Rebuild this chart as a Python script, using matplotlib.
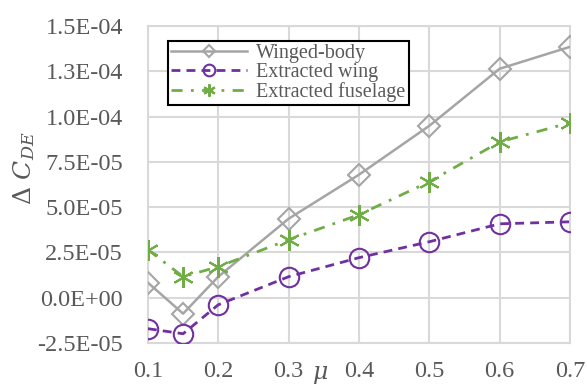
import matplotlib
matplotlib.use("Agg")
import matplotlib.pyplot as plt
from matplotlib.transforms import blended_transform_factory

mu = [0.1, 0.15, 0.2, 0.3, 0.4, 0.5, 0.6, 0.7]
winged_body = [0.83e-5, -0.88e-5, 1.16e-5, 4.36e-5, 6.79e-5, 9.49e-5, 12.64e-5, 13.85e-5]
wing = [-1.71e-5, -1.99e-5, -0.39e-5, 1.16e-5, 2.21e-5, 3.09e-5, 4.08e-5, 4.19e-5]
fuselage = [2.65e-5, 1.16e-5, 1.71e-5, 3.20e-5, 4.58e-5, 6.40e-5, 8.60e-5, 9.66e-5]
xticks = [0.1, 0.2, 0.3, 0.4, 0.5, 0.6, 0.7]
yticks = [-2.5e-5, 0.0, 2.5e-5, 5.0e-5, 7.5e-5, 1.0e-4, 1.25e-4, 1.5e-4]
ytick_labels = ["-2.5E-05", "0.0E+00", "2.5E-05", "5.0E-05", "7.5E-05", "1.0E-04", "1.3E-04", "1.5E-04"]

plt.rcParams['font.family'] = ['Liberation Serif', 'DejaVu Serif']
plt.rcParams['mathtext.fontset'] = 'dejavuserif'
txt = '#595959'
gridc = '#D9D9D9'

fig = plt.figure(figsize=(5.87, 3.87), dpi=100)
ax = fig.add_axes([0.252, 0.1137, 0.719, 0.8191])

ax.plot(mu, winged_body, color='#A5A5A5', lw=1.8, marker='D', ms=11, mfc='none', mec='#A5A5A5', mew=1.5,
        label='Winged-body', zorder=3)
ax.plot(mu, wing, color='#7030A0', lw=2.0, ls=(0, (3.2, 2.2)), marker='o', ms=14, mfc='none', mec='#7030A0', mew=1.5,
        label='Extracted wing', zorder=3)
ax.plot(mu, fuselage, color='#70AD47', lw=2.0, ls=(0, (4, 3, 1, 3)), marker=(6, 2, 0), ms=15, mec='#70AD47', mew=1.5,
        label='Extracted fuselage', zorder=3)

ax.set_xlim(0.1, 0.7)
ax.set_ylim(-2.5e-5, 1.5e-4)
ax.set_xticks(xticks)
ax.set_xticklabels([f"{v:.1f}" for v in xticks])
ax.set_yticks(yticks)
ax.set_yticklabels(ytick_labels)
ax.tick_params(length=0, labelsize=17.5, colors=txt)
ax.tick_params(axis='x', pad=13)
ax.tick_params(axis='y', pad=18)
ax.grid(True, color=gridc, lw=1.5)
ax.set_axisbelow(True)
for s in ax.spines.values():
    s.set_color(gridc)
    s.set_linewidth(1.5)

ax.set_ylabel(r'$\mathit{\Delta}\ C_{DE}$', fontsize=18, color=txt)
ax.yaxis.set_label_coords(-0.262, 0.55)

tr = blended_transform_factory(ax.transData, ax.transAxes)
ax.text(0.345, -0.065, r'$\mu$', transform=tr, fontsize=17, color=txt, ha='center', va='top')

leg = ax.legend(loc='upper left', bbox_to_anchor=(0.047, 0.952), fontsize=14.5, frameon=True, fancybox=False,
                edgecolor='black', framealpha=1, borderpad=0.15, labelspacing=0.0, handlelength=3.8,
                handletextpad=0.45, borderaxespad=0, markerscale=0.6)
leg.get_frame().set_linewidth(1.5)
for t in leg.get_texts():
    t.set_color(txt)

fig.savefig('out.png', dpi=100)
